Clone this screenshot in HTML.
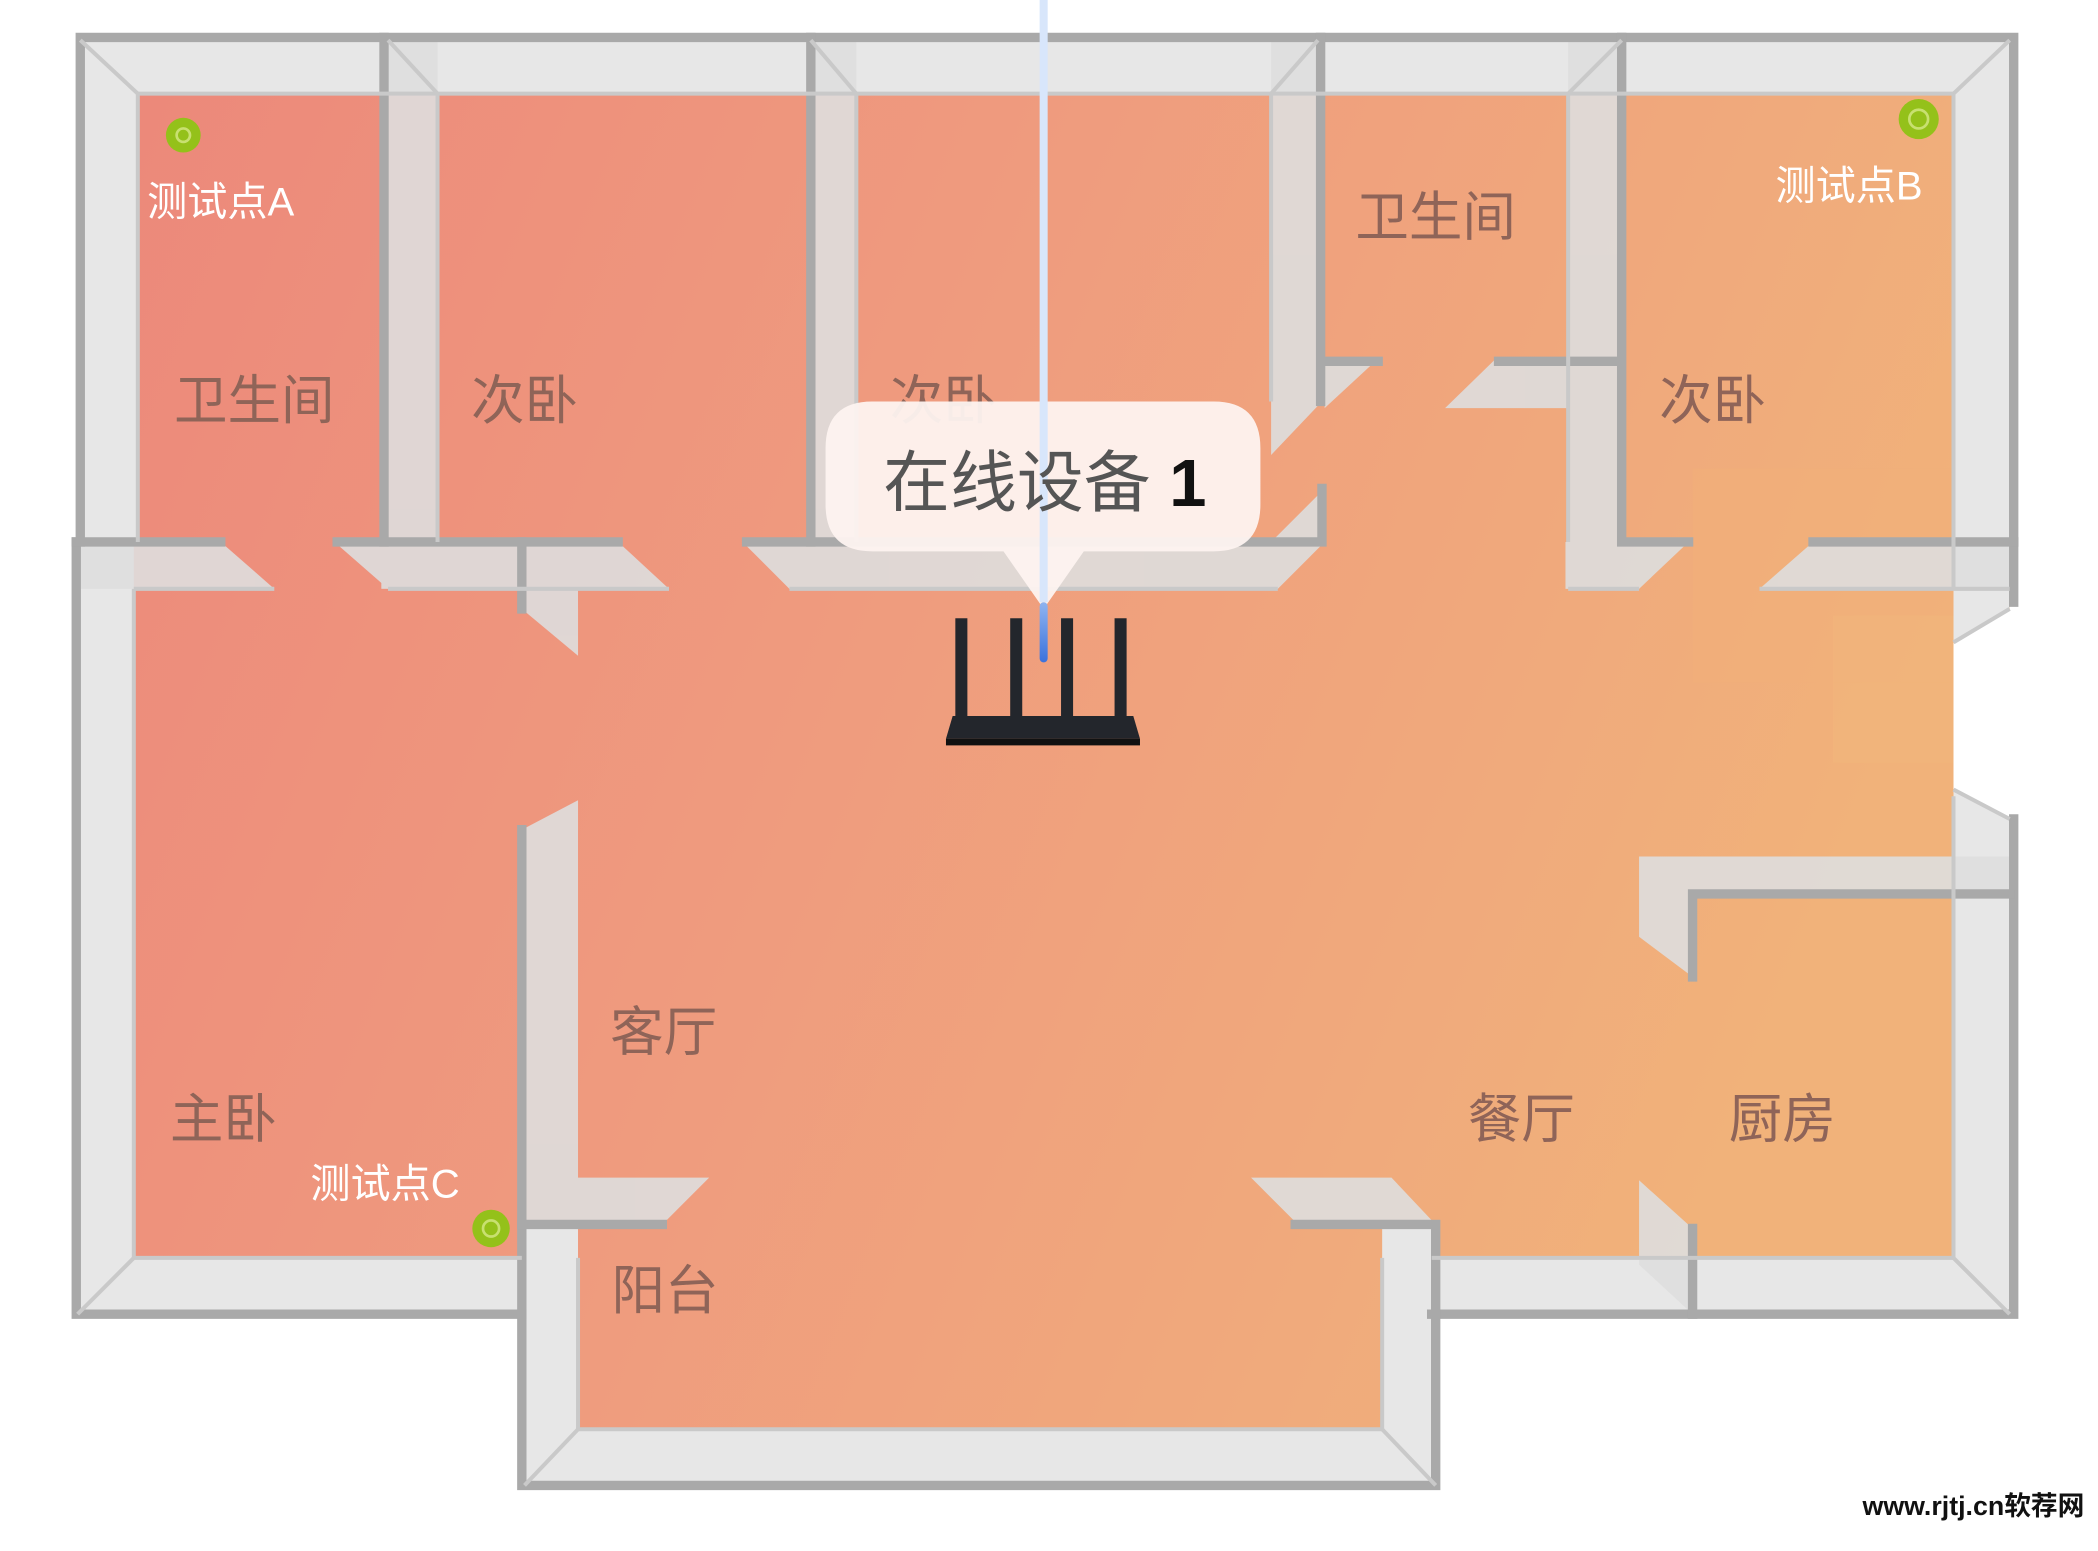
<!DOCTYPE html>
<html><head><meta charset="utf-8"><style>
html,body{margin:0;padding:0;background:#fff;}
svg{display:block;}
text{font-family:"Liberation Sans","Noto Sans CJK SC",sans-serif;}
</style></head><body>
<svg width="2098" height="1551" viewBox="0 0 1568 1159" preserveAspectRatio="none" xmlns="http://www.w3.org/2000/svg">
<defs>
<linearGradient id="fl" x1="0" y1="0" x2="1" y2="0.3">
<stop offset="0" stop-color="#ec877a"/>
<stop offset="0.45" stop-color="#ef9a7e"/>
<stop offset="0.8" stop-color="#f0a97c"/>
<stop offset="1" stop-color="#f1b27a"/>
</linearGradient>
<linearGradient id="bl" x1="0" y1="0" x2="0" y2="1">
<stop offset="0" stop-color="#8fb4f0"/><stop offset="1" stop-color="#3b72dc"/>
</linearGradient>
</defs>
<rect width="1568" height="1159" fill="#fff"/>
<!-- floor -->
<path d="M60 30 H1502 V455 L1460 480 V590 L1502 612 V980 H1070 V1110 H392 V980 H58 Z" fill="url(#fl)"/>
<rect x="1265" y="350" width="195" height="160" fill="#f2b07a" opacity="0.5"/>
<rect x="1370" y="460" width="90" height="110" fill="#f1b57b" opacity="0.6"/>
<!-- outer light wall bands -->
<g fill="#e7e7e7">
<rect x="60" y="30" width="1442" height="40"/>
<rect x="60" y="30" width="43" height="375"/>
<rect x="58" y="405" width="42" height="577"/>
<rect x="58" y="940" width="332" height="42"/>
<polygon points="1460,30 1502,30 1502,455 1460,480"/>
<polygon points="1460,590 1502,612 1502,982 1460,982"/>
<rect x="1070" y="940" width="432" height="42"/>
<rect x="392" y="915" width="40" height="195"/>
<rect x="1033" y="915" width="40" height="195"/>
<rect x="392" y="1068" width="681" height="42"/>
</g>
<!-- inner walls (light) -->
<g fill="#dedede" opacity="0.9">
<rect x="285" y="30" width="42" height="410"/>
<rect x="605" y="30" width="35" height="410"/>
<polygon points="950,30 988,30 988,300 950,340"/>
<rect x="1172" y="30" width="40" height="410"/>
<polygon points="60,405 165,405 205,440 60,440"/>
<polygon points="250,405 462,405 500,440 290,440"/>
<polygon points="555,405 990,405 955,440 590,440"/>
<polygon points="1170,405 1262,405 1225,440 1170,440"/>
<polygon points="1355,405 1502,405 1502,440 1315,440"/>
<polygon points="390,405 432,440 432,490 390,455"/>
<polygon points="990,268 1030,268 990,305"/>
<polygon points="1118,268 1212,268 1212,305 1080,305"/>
<polygon points="390,620 432,598 432,915 390,915"/>
<polygon points="390,880 530,880 495,915 390,915"/>
<polygon points="935,880 1040,880 1073,915 970,915"/>
<polygon points="1225,640 1502,640 1502,668 1265,668 1265,730 1225,700"/>
<polygon points="1225,882 1265,918 1265,982 1225,945"/>
<polygon points="950,405 950,440 990,405 990,365"/>
</g>
<!-- gray lines -->
<g stroke="#a9a9a9" stroke-width="7" fill="none" stroke-linecap="square">
<path d="M60 405 V28 H1505 V405"/>
<path d="M57 405 V982 H390"/>
<path d="M1505 405 V450"/>
<path d="M1505 612 V982 H1070"/>
<path d="M390 915 V1110 H1073 V915 H968"/>
<path d="M287 28 V405"/>
<path d="M606 28 V405"/>
<path d="M987 28 V300 M990 270 H1030"/>
<path d="M1212 28 V405 H1262 M1120 270 H1212"/>
<path d="M57 405 H165 M252 405 H462 M558 405 H988 V365"/>
<path d="M1355 405 H1505"/>
<path d="M390 405 V455"/>
<path d="M390 620 V915 H495"/>
<path d="M1265 730 V668 H1502 M1265 918 V982"/>
</g>
<g stroke="#c9c9c9" stroke-width="3" fill="none">
<path d="M103 405 V70 H1460 V440"/>
<path d="M100 440 V940 H390"/>
<path d="M1460 595 V940 H1070"/>
<path d="M432 940 V1068 H1033 V940"/>
<path d="M60 30 L103 70 M1502 30 L1460 70 M58 982 L100 940 M1502 982 L1460 940 M392 1110 L432 1068 M1073 1110 L1033 1068"/>
<path d="M290 30 L327 70 V405 M606 30 L640 70 V405 M985 30 L950 70 V300 M1212 30 L1172 70 V405"/>
<path d="M100 440 H205 M290 440 H500 M590 440 H955 M1172 440 H1225 M1315 440 H1502"/>
<path d="M1502 455 L1460 480 M1502 612 L1460 590"/>
</g>
<!-- labels -->
<g fill="#8f6458" font-size="40">
<text x="130" y="313">卫生间</text>
<text x="352" y="313">次卧</text>
<text x="665" y="313">次卧</text>
<text x="1013" y="176">卫生间</text>
<text x="1240" y="313">次卧</text>
<text x="456" y="785">客厅</text>
<text x="127" y="850">主卧</text>
<text x="1097" y="850">餐厅</text>
<text x="1292" y="850">厨房</text>
<text x="457" y="978">阳台</text>
</g>
<g fill="#fff" font-size="30">
<text x="110" y="161">测试点A</text>
<text x="1327" y="149">测试点B</text>
<text x="232" y="895">测试点C</text>
</g>
<g>
<circle cx="137" cy="101" r="13" fill="#94c11a"/><circle cx="137" cy="101" r="5" fill="none" stroke="#c8e070" stroke-width="2"/>
<circle cx="1434" cy="89" r="15" fill="#94c11a"/><circle cx="1434" cy="89" r="7" fill="none" stroke="#c8e070" stroke-width="2"/>
<circle cx="367" cy="918" r="14" fill="#94c11a"/><circle cx="367" cy="918" r="6" fill="none" stroke="#c8e070" stroke-width="2"/>
</g>
<!-- bubble -->
<path d="M652 300 H907 Q942 300 942 335 V377 Q942 412 907 412 H810 L780 455 L750 412 H652 Q617 412 617 377 V335 Q617 300 652 300 Z" fill="#fdf3f0" opacity="0.95"/>
<rect x="777" y="0" width="6" height="450" fill="#d8e6fb"/>
<rect x="777" y="450" width="6" height="45" rx="3" fill="url(#bl)"/>
<text x="660" y="378" font-size="50" fill="#555">在线设备 <tspan font-weight="bold" fill="#111">1</tspan></text>
<!-- router -->
<g fill="#23262c">
<rect x="714" y="462" width="9" height="80"/>
<rect x="755" y="462" width="9" height="80"/>
<rect x="793" y="462" width="9" height="80"/>
<rect x="833" y="462" width="9" height="80"/>
<polygon points="712,535 847,535 852,552 707,552"/>
<rect x="707" y="552" width="145" height="5" fill="#111"/>
</g>
<text x="1392" y="1132" font-size="20" font-weight="bold" fill="#111">www.rjtj.cn软荐网</text>
</svg>
</body></html>
